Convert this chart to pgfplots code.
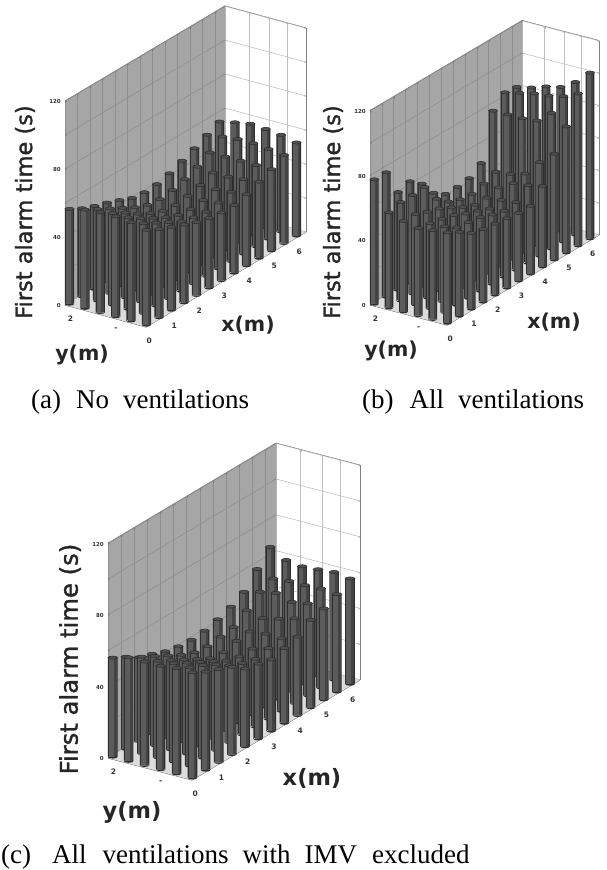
\documentclass[border=0pt]{standalone}
\usepackage{fontspec}
\usepackage{pgfplots}
\pgfplotsset{compat=1.18}
\setmainfont{Liberation Serif}
\newfontfamily\lab{DejaVu Sans}
\newfontfamily\labb[FakeBold=1.3]{DejaVu Sans}
\definecolor{cylD}{HTML}{2E2E2E}
\definecolor{cylM}{HTML}{5C5C5C}
\definecolor{cylR}{HTML}{434343}
\definecolor{cylT}{HTML}{505050}
\definecolor{wallL}{HTML}{A6A6A6}
\definecolor{floorC}{HTML}{DCDCDC}
\definecolor{gridC}{HTML}{8E8E8E}
\definecolor{boxC}{HTML}{7A7A7A}
\pgfdeclareplotmark{cyl}{%
  \pgfmathsetmacro\bh{\barz*\zs}%
  \pgfsetlinewidth{0.6pt}%
  \pgfsetstrokecolor{cylD}%
  \pgfsetfillcolor{cylD}%
  \pgfpathrectanglecorners{\pgfpoint{-\bw pt}{0pt}}{\pgfpoint{\bw pt}{-\bh pt}}%
  \pgfpathellipse{\pgfpoint{0pt}{-\bh pt}}{\pgfpoint{\bw pt}{0pt}}{\pgfpoint{0pt}{1.6pt}}%
  \pgfusepathqfill
  \pgfsetfillcolor{cylM}%
  \pgfpathrectanglecorners{\pgfpoint{-0.75*\bw pt}{0pt}}{\pgfpoint{0.25*\bw pt}{-\bh pt}}%
  \pgfusepathqfill
  \pgfsetfillcolor{cylR}%
  \pgfpathrectanglecorners{\pgfpoint{0.25*\bw pt}{0pt}}{\pgfpoint{0.8*\bw pt}{-\bh pt}}%
  \pgfusepathqfill
  \pgfsetfillcolor{cylT}%
  \pgfpathellipse{\pgfpoint{0pt}{0pt}}{\pgfpoint{\bw pt}{0pt}}{\pgfpoint{0pt}{1.6pt}}%
  \pgfusepathqfillstroke
}
\pgfplotsset{
  panel/.style={
    anchor=origin, clip=false,
    xmin=0, xmax=6.4, ymin=0, ymax=2, zmin=0, zmax=120,
    xtick={0,0.5,...,6}, xticklabels={0,,1,,2,,3,,4,,5,,6},
    ytick={0,0.46,0.9,1.41,2}, yticklabels={,,\textbf{-},,2},
    ztick={0,20,...,120}, zticklabels={0,,40,,80,,120},
    grid=major, grid style={gridC, line width=0.6pt},
    axis line style={boxC, line width=0.8pt},
    tick style={boxC, line width=0.4pt}, major tick length=2pt,
    xticklabel style={font=\lab\bfseries\fontsize{7.5}{8}\selectfont, text=black!80, inner sep=1pt, yshift=-9pt},
    yticklabel style={font=\lab\bfseries\fontsize{7.5}{8}\selectfont, text=black!80, inner sep=1pt, xshift=8pt, yshift=-9pt},
    zticklabel style={font=\lab\bfseries\fontsize{5.5}{6}\selectfont, text=black!80, inner sep=1pt, xshift=-3pt},
    execute at begin axis={%
      \fill[white, opacity=0.45] (axis cs:6.4,0,0) -- (axis cs:6.4,2,0) -- (axis cs:6.4,2,120) -- (axis cs:6.4,0,120) -- cycle;
      \fill[floorC] (axis cs:0,0,0) -- (axis cs:6.4,0,0) -- (axis cs:6.4,2,0) -- (axis cs:0,2,0) -- cycle;
    },
  },
  bars/.style={scatter, only marks, mark=cyl, visualization depends on={value \thisrow{z}\as\barz}},
}
\begin{document}
\begin{tikzpicture}
% ---------- (a)
\fill[wallL] (65pt,-305pt) -- (225pt,-210pt) -- (225pt,-6pt) -- (65pt,-101pt) -- cycle;
\def\zs{1.7}\def\bw{4.6}
\begin{axis}[panel, at={(146pt,-327pt)},
  x={(25pt,14.84pt)}, y={(-40.5pt,11pt)}, z={(0pt,1.7pt)}]
\addplot3[bars] table[row sep=\\] {
x y z\\
6.1 1.95 55\\ 6.1 1.57 57\\ 6.1 1.19 58.6\\ 6.1 0.81 58\\ 6.1 0.43 57\\ 6.1 0.05 55\\
5.6 1.95 51.6\\ 5.6 1.57 53\\ 5.6 1.19 54\\ 5.6 0.81 54\\ 5.6 0.43 53\\ 5.6 0.05 52\\
5.1 1.95 48\\ 5.1 1.57 48\\ 5.1 1.19 48\\ 5.1 0.81 48\\ 5.1 0.43 48\\ 5.1 0.05 48\\
4.6 1.95 45\\ 4.6 1.57 44\\ 4.6 1.19 43\\ 4.6 0.81 43\\ 4.6 0.43 44\\ 4.6 0.05 45\\
4.1 1.95 42\\ 4.1 1.57 41\\ 4.1 1.19 40\\ 4.1 0.81 40\\ 4.1 0.43 41\\ 4.1 0.05 42\\
3.6 1.95 40\\ 3.6 1.57 39\\ 3.6 1.19 38\\ 3.6 0.81 38\\ 3.6 0.43 39\\ 3.6 0.05 40\\
3.1 1.95 39.6\\ 3.1 1.57 38\\ 3.1 1.19 37\\ 3.1 0.81 37\\ 3.1 0.43 38\\ 3.1 0.05 40\\
2.6 1.95 40.6\\ 2.6 1.57 39\\ 2.6 1.19 38\\ 2.6 0.81 38\\ 2.6 0.43 39\\ 2.6 0.05 41\\
2.1 1.95 43.7\\ 2.1 1.57 42\\ 2.1 1.19 41\\ 2.1 0.81 41\\ 2.1 0.43 41\\ 2.1 0.05 43\\
1.6 1.95 46.6\\ 1.6 1.57 46\\ 1.6 1.19 45\\ 1.6 0.81 45\\ 1.6 0.43 45\\ 1.6 0.05 46\\
1.1 1.95 49\\ 1.1 1.57 50\\ 1.1 1.19 50\\ 1.1 0.81 49\\ 1.1 0.43 49\\ 1.1 0.05 49\\
0.6 1.95 52\\ 0.6 1.57 54\\ 0.6 1.19 54\\ 0.6 0.81 54\\ 0.6 0.43 53\\ 0.6 0.05 52\\
0.1 1.95 56\\ 0.1 1.57 58\\ 0.1 1.19 59\\ 0.1 0.81 59\\ 0.1 0.43 58\\ 0.1 0.05 56\\
};
\end{axis}
% ---------- (b)
\fill[wallL] (370pt,-305pt) -- (522pt,-215pt) -- (522pt,-20.6pt) -- (370pt,-110.6pt) -- cycle;
\def\zs{1.62}\def\bw{4.4}
\begin{axis}[panel, at={(447pt,-325pt)},
  x={(23.75pt,14.06pt)}, y={(-38.5pt,10pt)}, z={(0pt,1.62pt)}]
\addplot3[bars] table[row sep=\\] {
x y z\\
6.1 1.95 82\\ 6.1 1.57 84\\ 6.1 1.19 87\\ 6.1 0.81 89\\ 6.1 0.43 94.4\\ 6.1 0.05 102.5\\
5.6 1.95 83\\ 5.6 1.57 85\\ 5.6 1.19 87\\ 5.6 0.81 88\\ 5.6 0.43 90\\ 5.6 0.05 94\\
5.1 1.95 76\\ 5.1 1.57 76\\ 5.1 1.19 76\\ 5.1 0.81 77\\ 5.1 0.43 84\\ 5.1 0.05 78\\
4.6 1.95 48\\ 4.6 1.57 45\\ 4.6 1.19 46\\ 4.6 0.81 48.6\\ 4.6 0.43 58\\ 4.6 0.05 65.5\\
4.1 1.95 43\\ 4.1 1.57 42\\ 4.1 1.19 42\\ 4.1 0.81 47\\ 4.1 0.43 48\\ 4.1 0.05 50\\
3.6 1.95 42\\ 3.6 1.57 40\\ 3.6 1.19 40\\ 3.6 0.81 41\\ 3.6 0.43 42\\ 3.6 0.05 42\\
3.1 1.95 42\\ 3.1 1.57 41\\ 3.1 1.19 40\\ 3.1 0.81 40\\ 3.1 0.43 41\\ 3.1 0.05 42\\
2.6 1.95 47\\ 2.6 1.57 44\\ 2.6 1.19 43\\ 2.6 0.81 43\\ 2.6 0.43 43\\ 2.6 0.05 43\\
2.1 1.95 57\\ 2.1 1.57 50\\ 2.1 1.19 47\\ 2.1 0.81 45.6\\ 2.1 0.43 45.7\\ 2.1 0.05 44\\
1.6 1.95 62.8\\ 1.6 1.57 61.6\\ 1.6 1.19 50.7\\ 1.6 0.81 49\\ 1.6 0.43 47\\ 1.6 0.05 45\\
1.1 1.95 60.5\\ 1.1 1.57 61\\ 1.1 1.19 53\\ 1.1 0.81 51\\ 1.1 0.43 48\\ 1.1 0.05 47\\
0.6 1.95 77\\ 0.6 1.57 61\\ 0.6 1.19 56\\ 0.6 0.81 52.6\\ 0.6 0.43 53\\ 0.6 0.05 52\\
0.1 1.95 77\\ 0.1 1.57 59\\ 0.1 1.19 56\\ 0.1 0.81 54\\ 0.1 0.43 55\\ 0.1 0.05 56\\
};
\end{axis}
% ---------- (c)
\fill[wallL] (108pt,-758pt) -- (276pt,-658pt) -- (276pt,-443.2pt) -- (108pt,-543.2pt) -- cycle;
\def\zs{1.79}\def\bw{4.8}
\begin{axis}[panel, at={(192pt,-780pt)},
  x={(26.25pt,15.63pt)}, y={(-42pt,11pt)}, z={(0pt,1.79pt)}]
\addplot3[bars] table[row sep=\\] {
x y z\\
6.1 1.95 65\\ 6.1 1.57 60\\ 6.1 1.19 58.8\\ 6.1 0.81 59.5\\ 6.1 0.43 60.3\\ 6.1 0.05 59\\
5.6 1.95 57\\ 5.6 1.57 54\\ 5.6 1.19 55\\ 5.6 0.81 55\\ 5.6 0.43 55.4\\ 5.6 0.05 54.6\\
5.1 1.95 48.6\\ 5.1 1.57 51\\ 5.1 1.19 52.7\\ 5.1 0.81 50\\ 5.1 0.43 51.5\\ 5.1 0.05 51\\
4.6 1.95 44.7\\ 4.6 1.57 45\\ 4.6 1.19 43\\ 4.6 0.81 45\\ 4.6 0.43 47.5\\ 4.6 0.05 49\\
4.1 1.95 42\\ 4.1 1.57 40\\ 4.1 1.19 39.8\\ 4.1 0.81 41\\ 4.1 0.43 40.7\\ 4.1 0.05 44\\
3.6 1.95 40\\ 3.6 1.57 39\\ 3.6 1.19 39\\ 3.6 0.81 37\\ 3.6 0.43 39.6\\ 3.6 0.05 42\\
3.1 1.95 39.3\\ 3.1 1.57 38\\ 3.1 1.19 37\\ 3.1 0.81 37\\ 3.1 0.43 38\\ 3.1 0.05 40\\
2.6 1.95 40\\ 2.6 1.57 39\\ 2.6 1.19 38\\ 2.6 0.81 39\\ 2.6 0.43 40\\ 2.6 0.05 42\\
2.1 1.95 41.6\\ 2.1 1.57 42\\ 2.1 1.19 42\\ 2.1 0.81 43\\ 2.1 0.43 43\\ 2.1 0.05 43.6\\
1.6 1.95 44.5\\ 1.6 1.57 46\\ 1.6 1.19 46\\ 1.6 0.81 47\\ 1.6 0.43 48\\ 1.6 0.05 49\\
1.1 1.95 47\\ 1.1 1.57 50\\ 1.1 1.19 50\\ 1.1 0.81 51\\ 1.1 0.43 52\\ 1.1 0.05 52\\
0.6 1.95 51.6\\ 0.6 1.57 54\\ 0.6 1.19 54\\ 0.6 0.81 55\\ 0.6 0.43 55\\ 0.6 0.05 55\\
0.1 1.95 55.5\\ 0.1 1.57 58\\ 0.1 1.19 58\\ 0.1 0.81 58\\ 0.1 0.43 59\\ 0.1 0.05 59\\
};
\end{axis}
% ---------- texts
\tikzset{ylab/.style={rotate=90, font=\labb\fontsize{22.5}{24}\selectfont, text=black!85, inner sep=0pt},
  ylabc/.style={rotate=90, font=\labb\fontsize{24.3}{26}\selectfont, text=black!85, inner sep=0pt},
  axl/.style={font=\lab\bfseries\fontsize{20.5}{22}\selectfont, text=black!85, inner sep=0pt},
  axlc/.style={font=\lab\bfseries\fontsize{22.5}{24}\selectfont, text=black!85, inner sep=0pt},
  capt/.style={anchor=base west, font=\fontsize{27}{29}\selectfont, inner sep=0pt}}
\node[ylab] at (25pt,-212pt) {First alarm time (s)};
\node[ylab] at (333pt,-212pt) {First alarm time (s)};
\node[ylabc] at (70pt,-659pt) {First alarm time (s)};
\node[axl] at (248pt,-325pt) {x(m)};
\node[axl] at (82pt,-355pt) {y(m)};
\node[axl] at (554pt,-322pt) {x(m)};
\node[axl] at (391pt,-351pt) {y(m)};
\node[axlc] at (312pt,-778pt) {x(m)};
\node[axlc] at (132pt,-812pt) {y(m)};
\node[capt] at (31pt,-408pt) {(a)\hspace{15pt}No\hspace{14pt}ventilations};
\node[capt] at (362pt,-408pt) {(b)\hspace{16pt}All\hspace{14pt}ventilations};
\node[capt] at (1pt,-863pt) {(c)\hspace{21pt}All\hspace{16pt}ventilations\hspace{14pt}with\hspace{14pt}IMV\hspace{15pt}excluded};
\pgfresetboundingbox
\path[use as bounding box] (0,0) rectangle (607pt,-870pt);
\end{tikzpicture}
\end{document}
